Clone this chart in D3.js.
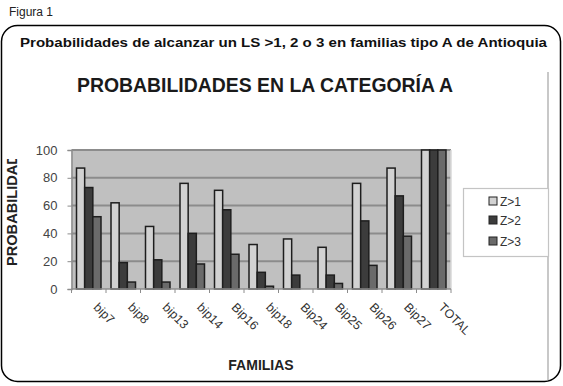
<!DOCTYPE html>
<html>
<head>
<meta charset="utf-8">
<script src="https://cdn.jsdelivr.net/npm/d3@7"></script>
<style>
  body { margin: 0; background: #fff; }
  svg { display: block; font-family: Arial, "Liberation Sans", sans-serif; }
</style>
</head>
<body>
<svg id="chart" width="563" height="386"></svg>
<script>
// Data
const familias = ["bip7", "bip8", "bip13", "bip14", "Bip16", "bip18", "Bip24", "Bip25", "Bip26", "Bip27", "TOTAL"];
const series = ["Z>1", "Z>2", "Z>3"];
const z1 = [87, 62, 45, 76, 71, 32, 36, 30, 76, 87, 100];
const z2 = [73, 19, 21, 40, 57, 12, 10, 10, 49, 67, 100];
const z3 = [52, 5, 5, 18, 25, 2, 0, 4, 17, 38, 100];
const yTicks = [0, 20, 40, 60, 80, 100];
const colors = ["#d2d2d2", "#3c3c3c", "#6a6a6a"];

const values = [z1, z2, z3];
const rows = familias.map((f, i) => ({ fam: f, vals: series.map((s, j) => ({ key: s, idx: j, v: values[j][i] })) }));

const svg = d3.select("#chart");

// Frame and headers
svg.append("text").attr("x", 9).attr("y", 16).attr("font-size", 12).attr("fill", "#222").text("Figura 1");
svg.append("rect")
    .attr("x", 1.5).attr("y", 25.5).attr("width", 559).attr("height", 356)
    .attr("rx", 16).attr("fill", "none").attr("stroke", "#000").attr("stroke-width", 1.5);
svg.append("text").attr("x", 20).attr("y", 47)
    .attr("font-size", 12).attr("font-weight", "bold").attr("fill", "#111")
    .attr("textLength", 527).attr("lengthAdjust", "spacingAndGlyphs")
    .text("Probabilidades de alcanzar un LS >1, 2 o 3 en familias tipo A de Antioquia");
svg.append("line").attr("x1", 548).attr("x2", 548).attr("y1", 72).attr("y2", 380)
    .attr("stroke", "#c8c8c8").attr("stroke-width", 2);

// Chart title
svg.append("text").attr("x", 77).attr("y", 92)
    .attr("font-size", 20).attr("font-weight", "bold").attr("fill", "#1a1a1a")
    .attr("textLength", 376).attr("lengthAdjust", "spacingAndGlyphs")
    .text("PROBABILIDADES EN LA CATEGORÍA A");

// Scales
const x0 = d3.scaleBand().domain(familias).range([71.5, 451]).padding(0);
const x1 = d3.scaleBand().domain(series).range([5, x0.bandwidth() - 5]).padding(0);
const y = d3.scaleLinear().domain([0, 100]).range([289, 150]);

// Plot background and grid
svg.append("rect").attr("x", 71.5).attr("y", 150).attr("width", 451 - 71.5).attr("height", 139).attr("fill", "#c0c0c0");
svg.append("g").selectAll("line").data(yTicks.filter(d => d > 0)).join("line")
    .attr("x1", 71.5).attr("x2", 451)
    .attr("y1", d => y(d)).attr("y2", d => y(d))
    .attr("stroke", "#8c8c8c").attr("stroke-width", 2);
svg.append("line").attr("x1", 451).attr("x2", 451).attr("y1", 150).attr("y2", 289)
    .attr("stroke", "#d8d8d8").attr("stroke-width", 1.5);

// Bars
const groups = svg.append("g").selectAll("g").data(rows).join("g")
    .attr("transform", d => `translate(${x0(d.fam)},0)`);
groups.selectAll("rect").data(d => d.vals.filter(v => v.v > 0)).join("rect")
    .attr("x", d => x1(d.key))
    .attr("y", d => y(d.v))
    .attr("width", x1.bandwidth())
    .attr("height", d => y(0) - y(d.v))
    .attr("fill", d => colors[d.idx])
    .attr("stroke", "#1e1e1e").attr("stroke-width", 1.5);

// Y axis
const yAxis = svg.append("g").attr("transform", "translate(71.5,0)")
    .call(d3.axisLeft(y).tickValues(yTicks).tickSize(4).tickPadding(10));
yAxis.select(".domain").attr("stroke", "#8c8c8c").attr("stroke-width", 1.5);
yAxis.selectAll(".tick line").attr("stroke", "#8c8c8c");
yAxis.selectAll("text").attr("font-size", 13).attr("fill", "#444").attr("font-family", "Arial, sans-serif");

// X axis
const xAxis = svg.append("g").attr("transform", "translate(0,289)");
xAxis.append("line").attr("x1", 71.5).attr("x2", 451).attr("stroke", "#8c8c8c").attr("stroke-width", 1.5);
xAxis.selectAll(".tk").data(familias.concat(["end"])).join("line")
    .attr("x1", (d, i) => 71.5 + i * x0.step()).attr("x2", (d, i) => 71.5 + i * x0.step())
    .attr("y1", 0).attr("y2", 4).attr("stroke", "#8c8c8c");
xAxis.selectAll("text").data(familias).join("text")
    .attr("transform", d => `translate(${x0(d) + x0.bandwidth() / 2 + 4},${19}) rotate(45)`)
    .attr("font-size", 12.5).attr("fill", "#333")
    .text(d => d);

// Axis titles
svg.append("text").attr("x", 261).attr("y", 370).attr("text-anchor", "middle")
    .attr("font-size", 14).attr("font-weight", "bold").attr("fill", "#222")
    .text("FAMILIAS");
svg.append("clipPath").attr("id", "yclip").append("rect")
    .attr("x", 0).attr("y", 159).attr("width", 30).attr("height", 120);
svg.append("g").attr("clip-path", "url(#yclip)")
    .append("text")
    .attr("transform", "translate(17,266) rotate(-90)")
    .attr("font-size", 14.6).attr("font-weight", "bold").attr("fill", "#222")
    .text("PROBABILIDAD");

// Legend
const legend = svg.append("g");
legend.append("rect").attr("x", 463.5).attr("y", 188.5).attr("width", 85).attr("height", 68)
    .attr("fill", "#fff").attr("stroke", "#c4c4c4").attr("stroke-width", 1.2);
const legendY = [201, 220, 241];
const item = legend.selectAll("g").data(series).join("g")
    .attr("transform", (d, i) => `translate(489,${legendY[i]})`);
item.append("rect").attr("x", 0).attr("y", -4).attr("width", 8).attr("height", 8)
    .attr("fill", (d, i) => colors[i]).attr("stroke", "#222");
item.append("text").attr("x", 11).attr("y", 4.5).attr("font-size", 12).attr("fill", "#333").text(d => d);
</script>
</body>
</html>
